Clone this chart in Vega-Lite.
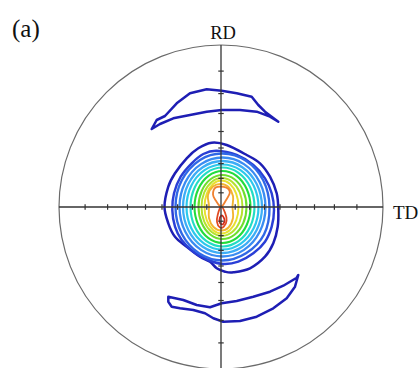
{
"$schema":"https://vega.github.io/schema/vega-lite/v6.json",
"width":420,"height":368,"autosize":"none","padding":0,"background":"white",
"config":{"view":{"stroke":null}},
"datasets":{
"contours":[
{"c":"L1","i":0,"x":-9.3,"y":64.3},{"c":"L1","i":1,"x":5.7,"y":62},{"c":"L1","i":2,"x":25.7,"y":52},{"c":"L1","i":3,"x":39,"y":43.7},{"c":"L1","i":4,"x":49,"y":30.3},{"c":"L1","i":5,"x":55.7,"y":13.7},{"c":"L1","i":6,"x":57.3,"y":-3},{"c":"L1","i":7,"x":56.7,"y":-19.7},{"c":"L1","i":8,"x":52.3,"y":-36.3},{"c":"L1","i":9,"x":44,"y":-49.7},{"c":"L1","i":10,"x":29,"y":-61.3},{"c":"L1","i":11,"x":12.3,"y":-65.3},{"c":"L1","i":12,"x":4,"y":-64.7},{"c":"L1","i":13,"x":-4.3,"y":-61.3},{"c":"L1","i":14,"x":-11,"y":-54.7},{"c":"L1","i":15,"x":-21,"y":-49.7},{"c":"L1","i":16,"x":-34.3,"y":-39.7},{"c":"L1","i":17,"x":-46,"y":-29.7},{"c":"L1","i":18,"x":-52.7,"y":-16.3},{"c":"L1","i":19,"x":-56.5,"y":0.3},{"c":"L1","i":20,"x":-52.7,"y":20.3},{"c":"L1","i":21,"x":-46,"y":33.7},{"c":"L1","i":22,"x":-34.3,"y":48.7},{"c":"L1","i":23,"x":-22.7,"y":58.7},
{"c":"L2","i":0,"x":-4.3,"y":56.3},{"c":"L2","i":1,"x":15.7,"y":52},{"c":"L2","i":2,"x":32.3,"y":42},{"c":"L2","i":3,"x":44,"y":28.7},{"c":"L2","i":4,"x":50.7,"y":13.7},{"c":"L2","i":5,"x":53,"y":-3},{"c":"L2","i":6,"x":50.7,"y":-19.7},{"c":"L2","i":7,"x":44,"y":-34.7},{"c":"L2","i":8,"x":32.3,"y":-46.3},{"c":"L2","i":9,"x":17.3,"y":-54.7},{"c":"L2","i":10,"x":2.3,"y":-57},{"c":"L2","i":11,"x":-12.7,"y":-53},{"c":"L2","i":12,"x":-27.7,"y":-44.7},{"c":"L2","i":13,"x":-39.3,"y":-33},{"c":"L2","i":14,"x":-46,"y":-19.7},{"c":"L2","i":15,"x":-48.7,"y":-3},{"c":"L2","i":16,"x":-47,"y":13.7},{"c":"L2","i":17,"x":-40.3,"y":30.3},{"c":"L2","i":18,"x":-29.3,"y":43.7},{"c":"L2","i":19,"x":-17.7,"y":53},
{"c":"L3","i":0,"x":1.5,"y":53.5},{"c":"L3","i":1,"x":25,"y":46.3},{"c":"L3","i":2,"x":42.2,"y":26.8},{"c":"L3","i":3,"x":48.5,"y":0},{"c":"L3","i":4,"x":43,"y":-27.5},{"c":"L3","i":5,"x":25,"y":-46.3},{"c":"L3","i":6,"x":1.5,"y":-53.5},{"c":"L3","i":7,"x":-22,"y":-46.3},{"c":"L3","i":8,"x":-39.2,"y":-26.8},{"c":"L3","i":9,"x":-45.5,"y":0},{"c":"L3","i":10,"x":-39.2,"y":26.8},{"c":"L3","i":11,"x":-21,"y":47},
{"c":"L4","i":0,"x":1.5,"y":49.5},{"c":"L4","i":1,"x":23,"y":42.9},{"c":"L4","i":2,"x":38.7,"y":24.8},{"c":"L4","i":3,"x":44.5,"y":0},{"c":"L4","i":4,"x":38.7,"y":-24.8},{"c":"L4","i":5,"x":23,"y":-42.9},{"c":"L4","i":6,"x":1.5,"y":-49.5},{"c":"L4","i":7,"x":-20,"y":-42.9},{"c":"L4","i":8,"x":-35.7,"y":-24.8},{"c":"L4","i":9,"x":-41.5,"y":0},{"c":"L4","i":10,"x":-35.7,"y":24.8},{"c":"L4","i":11,"x":-20,"y":42.9},
{"c":"L5","i":0,"x":1.5,"y":46},{"c":"L5","i":1,"x":21.3,"y":39.8},{"c":"L5","i":2,"x":35.7,"y":23},{"c":"L5","i":3,"x":41,"y":0},{"c":"L5","i":4,"x":35.7,"y":-23},{"c":"L5","i":5,"x":21.3,"y":-39.8},{"c":"L5","i":6,"x":1.5,"y":-46},{"c":"L5","i":7,"x":-18.3,"y":-39.8},{"c":"L5","i":8,"x":-32.7,"y":-23},{"c":"L5","i":9,"x":-38,"y":0},{"c":"L5","i":10,"x":-32.7,"y":23},{"c":"L5","i":11,"x":-18.3,"y":39.8},
{"c":"L6","i":0,"x":1.5,"y":42.5},{"c":"L6","i":1,"x":19.5,"y":36.8},{"c":"L6","i":2,"x":32.7,"y":21.3},{"c":"L6","i":3,"x":37.5,"y":0},{"c":"L6","i":4,"x":32.7,"y":-21.3},{"c":"L6","i":5,"x":19.5,"y":-36.8},{"c":"L6","i":6,"x":1.5,"y":-42.5},{"c":"L6","i":7,"x":-16.5,"y":-36.8},{"c":"L6","i":8,"x":-29.7,"y":-21.3},{"c":"L6","i":9,"x":-34.5,"y":0},{"c":"L6","i":10,"x":-29.7,"y":21.3},{"c":"L6","i":11,"x":-16.5,"y":36.8},
{"c":"L7","i":0,"x":1.5,"y":39.5},{"c":"L7","i":1,"x":17.5,"y":34.2},{"c":"L7","i":2,"x":29.2,"y":19.8},{"c":"L7","i":3,"x":33.5,"y":0},{"c":"L7","i":4,"x":29.2,"y":-19.8},{"c":"L7","i":5,"x":17.5,"y":-34.2},{"c":"L7","i":6,"x":1.5,"y":-39.5},{"c":"L7","i":7,"x":-14.5,"y":-34.2},{"c":"L7","i":8,"x":-26.2,"y":-19.8},{"c":"L7","i":9,"x":-30.5,"y":0},{"c":"L7","i":10,"x":-26.2,"y":19.8},{"c":"L7","i":11,"x":-14.5,"y":34.2},
{"c":"L8","i":0,"x":1.5,"y":36},{"c":"L8","i":1,"x":15.5,"y":31.2},{"c":"L8","i":2,"x":25.7,"y":18},{"c":"L8","i":3,"x":29.5,"y":0},{"c":"L8","i":4,"x":25.7,"y":-18},{"c":"L8","i":5,"x":15.5,"y":-31.2},{"c":"L8","i":6,"x":1.5,"y":-36},{"c":"L8","i":7,"x":-12.5,"y":-31.2},{"c":"L8","i":8,"x":-22.7,"y":-18},{"c":"L8","i":9,"x":-26.5,"y":0},{"c":"L8","i":10,"x":-22.7,"y":18},{"c":"L8","i":11,"x":-12.5,"y":31.2},
{"c":"L9","i":0,"x":1.5,"y":32},{"c":"L9","i":1,"x":13.5,"y":27.7},{"c":"L9","i":2,"x":22.3,"y":16},{"c":"L9","i":3,"x":25.5,"y":0},{"c":"L9","i":4,"x":22.3,"y":-16},{"c":"L9","i":5,"x":13.5,"y":-27.7},{"c":"L9","i":6,"x":1.5,"y":-32},{"c":"L9","i":7,"x":-10.5,"y":-27.7},{"c":"L9","i":8,"x":-19.3,"y":-16},{"c":"L9","i":9,"x":-22.5,"y":0},{"c":"L9","i":10,"x":-19.3,"y":16},{"c":"L9","i":11,"x":-10.5,"y":27.7},
{"c":"L10","i":0,"x":1,"y":29},{"c":"L10","i":1,"x":11.3,"y":25.1},{"c":"L10","i":2,"x":18.8,"y":14.5},{"c":"L10","i":3,"x":21.5,"y":0},{"c":"L10","i":4,"x":18.8,"y":-14.5},{"c":"L10","i":5,"x":11.3,"y":-25.1},{"c":"L10","i":6,"x":1,"y":-29},{"c":"L10","i":7,"x":-9.3,"y":-25.1},{"c":"L10","i":8,"x":-16.8,"y":-14.5},{"c":"L10","i":9,"x":-19.5,"y":0},{"c":"L10","i":10,"x":-16.8,"y":14.5},{"c":"L10","i":11,"x":-9.3,"y":25.1},
{"c":"L11","i":0,"x":0.5,"y":26.5},{"c":"L11","i":1,"x":9,"y":23},{"c":"L11","i":2,"x":15.2,"y":13.3},{"c":"L11","i":3,"x":17.5,"y":0},{"c":"L11","i":4,"x":15.2,"y":-13.3},{"c":"L11","i":5,"x":9,"y":-23},{"c":"L11","i":6,"x":0.5,"y":-26.5},{"c":"L11","i":7,"x":-8,"y":-23},{"c":"L11","i":8,"x":-14.2,"y":-13.3},{"c":"L11","i":9,"x":-16.5,"y":0},{"c":"L11","i":10,"x":-14.2,"y":13.3},{"c":"L11","i":11,"x":-8,"y":23},
{"c":"L12","i":0,"x":0,"y":23},{"c":"L12","i":1,"x":7.5,"y":20},{"c":"L12","i":2,"x":12,"y":11},{"c":"L12","i":3,"x":11.5,"y":0},{"c":"L12","i":4,"x":12,"y":-11},{"c":"L12","i":5,"x":7.5,"y":-20.5},{"c":"L12","i":6,"x":0,"y":-23.5},{"c":"L12","i":7,"x":-7.5,"y":-20},{"c":"L12","i":8,"x":-12,"y":-11},{"c":"L12","i":9,"x":-12,"y":1},{"c":"L12","i":10,"x":-13,"y":12},{"c":"L12","i":11,"x":-8,"y":20.5},
{"c":"L13","i":0,"x":-5.2,"y":19.6},{"c":"L13","i":1,"x":4.8,"y":19.6},{"c":"L13","i":2,"x":8.8,"y":14.4},{"c":"L13","i":3,"x":4.8,"y":6.4},{"c":"L13","i":4,"x":0,"y":0.3},{"c":"L13","i":5,"x":-5.2,"y":6.4},{"c":"L13","i":6,"x":-8,"y":12.4},
{"c":"L14","i":0,"x":0,"y":0.3},{"c":"L14","i":1,"x":4,"y":-5.6},{"c":"L14","i":2,"x":5.6,"y":-13.6},{"c":"L14","i":3,"x":2.8,"y":-19.6},{"c":"L14","i":4,"x":-1.2,"y":-20.4},{"c":"L14","i":5,"x":-4,"y":-14.8},{"c":"L14","i":6,"x":-3.2,"y":-7.6},
{"c":"L15","i":0,"x":1.2,"y":-8.4},{"c":"L15","i":1,"x":3.6,"y":-13.2},{"c":"L15","i":2,"x":1.8,"y":-17.4},{"c":"L15","i":3,"x":-1.2,"y":-15.6},{"c":"L15","i":4,"x":-1.2,"y":-10.8}
],
"bananas":[
{"b":"top","i":0,"x":-69.3,"y":78},{"b":"top","i":1,"x":-64.3,"y":87},{"b":"top","i":2,"x":-56,"y":91},{"b":"top","i":3,"x":-44.3,"y":103.7},{"b":"top","i":4,"x":-31,"y":113.7},{"b":"top","i":5,"x":-14.3,"y":117.7},{"b":"top","i":6,"x":0.7,"y":116.3},{"b":"top","i":7,"x":15.7,"y":113.7},{"b":"top","i":8,"x":30.7,"y":110.3},{"b":"top","i":9,"x":37.3,"y":102},{"b":"top","i":10,"x":44,"y":95.3},{"b":"top","i":11,"x":57.3,"y":85.3},{"b":"top","i":12,"x":49,"y":90.3},{"b":"top","i":13,"x":35.7,"y":95.3},{"b":"top","i":14,"x":19,"y":97},{"b":"top","i":15,"x":0.7,"y":97},{"b":"top","i":16,"x":-14.3,"y":95.3},{"b":"top","i":17,"x":-31,"y":92},{"b":"top","i":18,"x":-47.7,"y":88.7},{"b":"top","i":19,"x":-61,"y":83},
{"b":"bot","i":0,"x":-52.7,"y":-89.7},{"b":"bot","i":1,"x":-37.7,"y":-93},{"b":"bot","i":2,"x":-24.3,"y":-98},{"b":"bot","i":3,"x":-11,"y":-100.3},{"b":"bot","i":4,"x":0.7,"y":-96.3},{"b":"bot","i":5,"x":15.7,"y":-94},{"b":"bot","i":6,"x":32.3,"y":-89.7},{"b":"bot","i":7,"x":49,"y":-84.7},{"b":"bot","i":8,"x":62.3,"y":-78.7},{"b":"bot","i":9,"x":75.7,"y":-70.7},{"b":"bot","i":10,"x":77.3,"y":-68},{"b":"bot","i":11,"x":74,"y":-79.7},{"b":"bot","i":12,"x":65.7,"y":-91.3},{"b":"bot","i":13,"x":52.3,"y":-101.3},{"b":"bot","i":14,"x":35.7,"y":-109.7},{"b":"bot","i":15,"x":19,"y":-114},{"b":"bot","i":16,"x":2.3,"y":-114.7},{"b":"bot","i":17,"x":-7.7,"y":-111.3},{"b":"bot","i":18,"x":-16,"y":-106.3},{"b":"bot","i":19,"x":-27.7,"y":-103},{"b":"bot","i":20,"x":-41,"y":-101.3},{"b":"bot","i":21,"x":-49.3,"y":-99.7},{"b":"bot","i":22,"x":-52.7,"y":-94.7}
],
"axes":[{"x":-162,"y":0,"x2":162,"y2":0},{"x":0,"y":-162,"x2":0,"y2":162}],
"ticks":[
{"a":"h","x":14.2,"y":0},{"a":"h","x":28.6,"y":0},{"a":"h","x":43.4,"y":0},{"a":"h","x":59,"y":0},{"a":"h","x":75.5,"y":0},{"a":"h","x":93.5,"y":0},{"a":"h","x":113.4,"y":0},{"a":"h","x":135.9,"y":0},
{"a":"h","x":-14.2,"y":0},{"a":"h","x":-28.6,"y":0},{"a":"h","x":-43.4,"y":0},{"a":"h","x":-59,"y":0},{"a":"h","x":-75.5,"y":0},{"a":"h","x":-93.5,"y":0},{"a":"h","x":-113.4,"y":0},{"a":"h","x":-135.9,"y":0},
{"a":"v","x":0,"y":14.2},{"a":"v","x":0,"y":28.6},{"a":"v","x":0,"y":43.4},{"a":"v","x":0,"y":59},{"a":"v","x":0,"y":75.5},{"a":"v","x":0,"y":93.5},{"a":"v","x":0,"y":113.4},{"a":"v","x":0,"y":135.9},
{"a":"v","x":0,"y":-14.2},{"a":"v","x":0,"y":-28.6},{"a":"v","x":0,"y":-43.4},{"a":"v","x":0,"y":-59},{"a":"v","x":0,"y":-75.5},{"a":"v","x":0,"y":-93.5},{"a":"v","x":0,"y":-113.4},{"a":"v","x":0,"y":-135.9}
],
"labelsC":[{"t":"RD","x":2,"y":174}],
"labelsL":[{"t":"TD","x":172,"y":-6}],
"labelsA":[{"t":"(a)","x":-209,"y":178}]
},
"encoding":{
"x":{"field":"x","type":"quantitative","scale":{"domain":[-221,199],"nice":false,"zero":false},"axis":null},
"y":{"field":"y","type":"quantitative","scale":{"domain":[-161,207],"nice":false,"zero":false},"axis":null}
},
"layer":[
{"data":{"name":"bananas"},"mark":{"type":"line","interpolate":"linear-closed","stroke":"#1e1eb4","strokeWidth":2.5,"strokeJoin":"round"},
 "encoding":{"detail":{"field":"b"},"order":{"field":"i","type":"quantitative"}}},
{"data":{"name":"contours"},"mark":{"type":"line","interpolate":"cardinal-closed","strokeJoin":"round"},
 "encoding":{"order":{"field":"i","type":"quantitative"},
  "color":{"field":"c","type":"nominal","legend":null,"scale":{"domain":["L1","L2","L3","L4","L5","L6","L7","L8","L9","L10","L11","L12","L13","L14","L15"],"range":["#1e1eb4","#2a3fd6","#3068e6","#3a8cf2","#3cadf6","#2cc8ec","#22dcc4","#22dc3c","#6ede2e","#b4e22e","#e8e030","#f2b430","#f08030","#e04a20","#d02a1a"]}},
  "strokeWidth":{"field":"c","type":"nominal","legend":null,"scale":{"domain":["L1","L2","L3","L4","L5","L6","L7","L8","L9","L10","L11","L12","L13","L14","L15"],"range":[2.5,1.7,1.5,1.5,1.5,1.5,1.5,3,1.5,1.5,1.5,1.5,1.8,1.8,1.5]}}}},
{"data":{"values":[{"x":0,"y":0}]},"mark":{"type":"point","shape":"circle","filled":false,"size":104976,"stroke":"#6a6a6a","strokeWidth":1.2,"opacity":1}},
{"data":{"name":"axes"},"mark":{"type":"rule","stroke":"#333333","strokeWidth":1.3},
 "encoding":{"x2":{"field":"x2"},"y2":{"field":"y2"}}},
{"data":{"name":"ticks"},"mark":{"type":"point","filled":false,"stroke":"#333333","strokeWidth":1.2,"size":30,"opacity":1},
 "encoding":{"shape":{"field":"a","type":"nominal","legend":null,"scale":{"domain":["h","v"],"range":["M0,-1L0,1","M-1,0L1,0"]}}}},
{"data":{"name":"labelsC"},"mark":{"type":"text","font":"Liberation Serif","color":"#111111","align":"center","fontSize":18.5},
 "encoding":{"text":{"field":"t"}}},
{"data":{"name":"labelsL"},"mark":{"type":"text","font":"Liberation Serif","color":"#111111","align":"left","fontSize":19},
 "encoding":{"text":{"field":"t"}}},
{"data":{"name":"labelsA"},"mark":{"type":"text","font":"Liberation Serif","color":"#111111","align":"left","fontSize":25},
 "encoding":{"text":{"field":"t"}}}
]
}
